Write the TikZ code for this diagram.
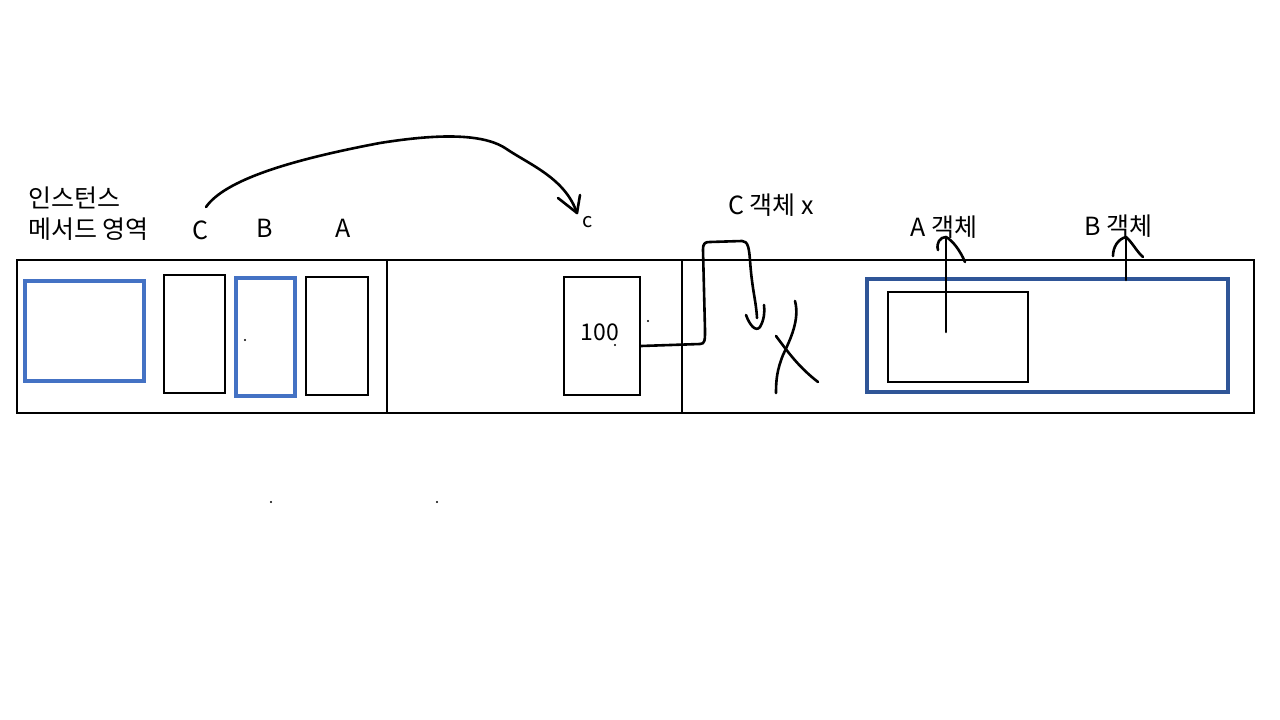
\documentclass[tikz,border=0pt]{standalone}
\usepackage{fontspec}
\setmainfont{Noto Sans CJK KR}
\definecolor{lblue}{HTML}{4472C4}
\definecolor{dblue}{HTML}{2F5597}
\begin{document}
\begin{tikzpicture}[x=1pt,y=-1pt,
  box/.style={draw=black,line width=1.7pt},
  bbox/.style={draw=lblue,line width=3.2pt},
  dbox/.style={draw=dblue,line width=3.6pt},
  pen/.style={line width=2.6pt,line cap=round,line join=round},
  lab/.style={font=\fontsize{25}{31}\selectfont,inner sep=0pt},
  dotn/.style={circle,fill=black,inner sep=0pt,minimum size=2.2pt}]
\useasboundingbox (0,0) rectangle (1280,720);
% main frame
\draw[box] (17,260) rectangle (1254,413);
\draw[box] (387,260) -- (387,413);
\draw[box] (682,260) -- (682,413);
% left section
\draw[bbox] (25,281) rectangle (144,381);
\draw[box] (164,275) rectangle (225,393);
\draw[bbox] (236,278) rectangle (295,396);
\draw[box] (306,277) rectangle (368,395);
\node[dotn] (d1) at (245,340) {};
\node[lab,anchor=west,align=left] (title) at (28,214) {인스턴스\\메서드 영역};
\node[lab] (lC) at (200,230) {C};
\node[lab] (lB) at (265,228) {B};
\node[lab] (lA) at (343,228) {A};
% middle
\node[box,minimum width=76pt,minimum height=118pt,inner sep=0pt] (hundred) at (602,336) {};
\node[lab,font=\fontsize{23}{27}\selectfont] (t100) at (600,332) {100};
\node[dotn] (d2) at (615,345) {};
\node[dotn] (d3) at (648,321) {};
\node[lab,font=\fontsize{20}{24}\selectfont] (lc) at (588,222) {c};
% curve C -> c
\coordinate (cs) at (206,207);
\coordinate (ce) at (577,213);
\draw[pen] (cs) .. controls (225,180) and (290,160) .. (380,143)
  .. controls (430,135) and (480,132) .. (505,148)
  .. controls (530,165) and (565,178) .. (ce);
\draw[pen] (558,198) -- (ce) -- (580,195);
% right-middle connector
\coordinate (p1) at (641,346);
\draw[pen] (p1) -- (700,344) .. controls (705,344) and (705,340) .. (705,330)
  -- (703,250) .. controls (703,243) and (705,242) .. (710,242)
  -- (742,241) .. controls (748,241) and (749,248) .. (750,260)
  .. controls (752,290) and (756,300) .. (757,318);
\draw[pen] (746,315) .. controls (750,326) and (756,332) .. (760,327)
  .. controls (764,320) and (765,312) .. (764,305);
\node[lab] (lCx) at (771,205) {C 객체 x};
% X mark
\draw[pen] (795,301) .. controls (800,320) and (790,340) .. (783,355)
  .. controls (777,370) and (776,380) .. (776,393);
\draw[pen] (776,336) .. controls (790,355) and (800,368) .. (818,382);
% right section
\draw[dbox] (867,279) rectangle (1228,392);
\draw[box] (888,292) rectangle (1028,382);
\node[lab] (oA) at (944,227) {A 객체};
\node[lab] (oB) at (1118,226) {B 객체};
\coordinate (a1) at (946,332);
\coordinate (a2) at (946,237);
\draw[pen] (a1) -- (a2);
\draw[pen] (938,250) .. controls (936,243) and (940,237) .. (a2)
  .. controls (952,240) and (960,250) .. (965,262);
\coordinate (b1) at (1126,280);
\coordinate (b2) at (1126,237);
\draw[pen] (b1) -- (b2);
\draw[pen] (1113,256) .. controls (1113,247) and (1118,239) .. (b2)
  .. controls (1132,242) and (1137,252) .. (1143,257);
% stray dots
\node[dotn] (d4) at (271,502) {};
\node[dotn] (d5) at (437,502) {};
\end{tikzpicture}
\end{document}
